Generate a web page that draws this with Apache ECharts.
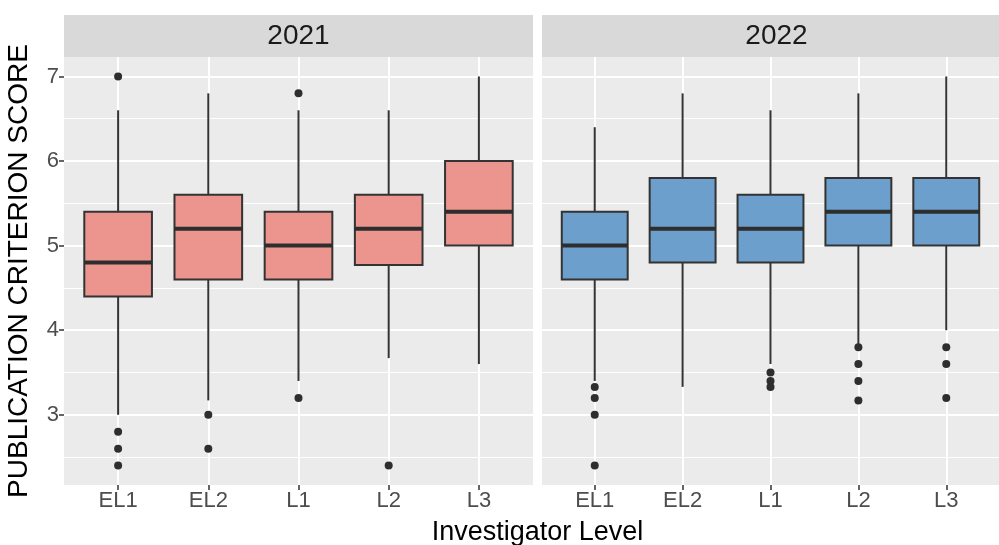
<!DOCTYPE html>
<html>
<head>
<meta charset="utf-8">
<script src="https://cdn.jsdelivr.net/npm/echarts@6/dist/echarts.min.js"></script>
<style>
  html, body { margin: 0; padding: 0; background: #ffffff; }
  #chart { width: 999px; height: 545px; }
</style>
</head>
<body>
<div id="chart"></div>
<script>
// Investigator levels on the x axis, one facet per year
const levels = ['EL1', 'EL2', 'L1', 'L2', 'L3'];
const years = ['2021', '2022'];

// Box summaries per level: [lower whisker, Q1, median, Q3, upper whisker]
const stats2021 = [
  [3.0, 4.4, 4.8, 5.4, 6.6],
  [3.17, 4.6, 5.2, 5.6, 6.8],
  [3.4, 4.6, 5.0, 5.4, 6.6],
  [3.67, 4.77, 5.2, 5.6, 6.6],
  [3.6, 5.0, 5.4, 6.0, 7.0]
];
const stats2022 = [
  [3.4, 4.6, 5.0, 5.4, 6.4],
  [3.33, 4.8, 5.2, 5.8, 6.8],
  [3.6, 4.8, 5.2, 5.6, 6.6],
  [3.83, 5.0, 5.4, 5.8, 6.8],
  [4.0, 5.0, 5.4, 5.8, 7.0]
];

// Outlying scores: [level index, score]
const outliers2021 = [
  [0, 7.0], [0, 2.8], [0, 2.6], [0, 2.4],
  [1, 3.0], [1, 2.6],
  [2, 6.8], [2, 3.2],
  [3, 2.4]
];
const outliers2022 = [
  [0, 3.33], [0, 3.2], [0, 3.0], [0, 2.4],
  [2, 3.5], [2, 3.4], [2, 3.33],
  [3, 3.8], [3, 3.6], [3, 3.4], [3, 3.17],
  [4, 3.8], [4, 3.6], [4, 3.2]
];

// Axis ticks
const yMajorTicks = [3, 4, 5, 6, 7];
const yMinorTicks = [2.5, 3.5, 4.5, 5.5, 6.5];

const statsByYear = [stats2021, stats2022];
const outliersByYear = [outliers2021, outliers2022];
const fills = ['#EC958E', '#6C9FCB'];

// Panel geometry
const panelTop = 57;
const panelHeight = 428;
const panelWidth = 469;
const panelLefts = [64, 542];
const stripTop = 15;
const stripHeight = 42;
const font = 'Liberation Sans, Arial, sans-serif';

// y range: data extent padded by 5% on each side
const allScores = [];
statsByYear.forEach(s => s.forEach(r => allScores.push(...r)));
outliersByYear.forEach(o => o.forEach(p => allScores.push(p[1])));
const lo = Math.min(...allScores), hi = Math.max(...allScores);
const pad = (hi - lo) * 0.05;
const yMin = lo - pad, yMax = hi + pad;
// x range: discrete positions 1..n padded by 0.6
const xPositions = levels.map((_, i) => i + 1);
const xMin = 0.4, xMax = levels.length + 0.6;

const grids = panelLefts.map(left => ({
  left: left, top: panelTop, width: panelWidth, height: panelHeight,
  show: true, backgroundColor: '#EBEBEB', borderWidth: 0
}));

const xAxes = years.map((_, g) => ({
  type: 'value', gridIndex: g, min: xMin, max: xMax,
  axisLine: { show: false },
  axisTick: { show: true, customValues: xPositions, length: 5, lineStyle: { color: '#333333', width: 1.5 } },
  axisLabel: {
    show: true, customValues: xPositions, formatter: v => levels[Math.round(v) - 1],
    color: '#4D4D4D', fontSize: 22, fontFamily: font, margin: 5
  },
  splitLine: { show: true, lineStyle: { color: '#FFFFFF', width: 2 } }
}));

const yAxes = [];
years.forEach((_, g) => {
  yAxes.push({
    type: 'value', gridIndex: g, min: yMin, max: yMax, position: 'left',
    axisLine: { show: false },
    axisTick: { show: g === 0, customValues: yMajorTicks, length: 5, lineStyle: { color: '#333333', width: 1.5 } },
    axisLabel: {
      show: g === 0, customValues: yMajorTicks, formatter: v => String(v),
      color: '#4D4D4D', fontSize: 22, fontFamily: font, margin: 5
    },
    splitLine: { show: true, lineStyle: { color: '#FFFFFF', width: 2 } },
    name: g === 0 ? 'PUBLICATION CRITERION SCORE' : '',
    nameLocation: 'middle', nameRotate: 90, nameGap: 31,
    nameTextStyle: { color: '#000000', fontSize: 28, fontFamily: font }
  });
  yAxes.push({
    type: 'value', gridIndex: g, min: yMin, max: yMax, position: 'left',
    axisLine: { show: false },
    axisTick: { show: false, customValues: yMinorTicks },
    axisLabel: { show: false, customValues: yMinorTicks },
    splitLine: { show: true, lineStyle: { color: '#FFFFFF', width: 1 } }
  });
});

function renderBox(params, api) {
  const x = api.value(0);
  const pLo = api.coord([x, api.value(1)]);
  const pQ1 = api.coord([x, api.value(2)]);
  const pMed = api.coord([x, api.value(3)]);
  const pQ3 = api.coord([x, api.value(4)]);
  const pHi = api.coord([x, api.value(5)]);
  const w = api.size([0.75, 0])[0];
  const stroke = '#333333';
  return {
    type: 'group',
    children: [
      { type: 'line', shape: { x1: pQ3[0], y1: pQ3[1], x2: pHi[0], y2: pHi[1] }, style: { stroke, lineWidth: 2 } },
      { type: 'line', shape: { x1: pLo[0], y1: pLo[1], x2: pQ1[0], y2: pQ1[1] }, style: { stroke, lineWidth: 2 } },
      { type: 'rect', shape: { x: pQ3[0] - w / 2, y: pQ3[1], width: w, height: pQ1[1] - pQ3[1] },
        style: { fill: api.visual('color'), stroke, lineWidth: 2 } },
      { type: 'line', shape: { x1: pMed[0] - w / 2, y1: pMed[1], x2: pMed[0] + w / 2, y2: pMed[1] },
        style: { stroke: '#2E2E2E', lineWidth: 4 } }
    ]
  };
}

const series = [];
years.forEach((year, g) => {
  series.push({
    type: 'custom', name: year + ' box',
    xAxisIndex: g, yAxisIndex: g * 2,
    itemStyle: { color: fills[g] },
    renderItem: renderBox,
    encode: { x: 0, y: [1, 2, 3, 4, 5] },
    data: statsByYear[g].map((s, i) => [xPositions[i], ...s]),
    z: 3
  });
  series.push({
    type: 'scatter', name: year + ' outliers',
    xAxisIndex: g, yAxisIndex: g * 2,
    symbol: 'circle', symbolSize: 8,
    itemStyle: { color: '#2E2E2E', opacity: 1 },
    data: outliersByYear[g].map(p => [xPositions[p[0]], p[1]]),
    z: 4
  });
});

const graphics = [];
years.forEach((year, g) => {
  graphics.push({
    type: 'rect', left: panelLefts[g], top: stripTop,
    shape: { width: panelWidth, height: stripHeight },
    style: { fill: '#D9D9D9' }, silent: true
  });
  graphics.push({
    type: 'text', x: panelLefts[g] + panelWidth / 2, y: stripTop + stripHeight / 2,
    style: { text: year, fill: '#1A1A1A', font: '28px ' + font, align: 'center', verticalAlign: 'middle' },
    silent: true
  });
});
graphics.push({
  type: 'text',
  x: (panelLefts[0] + panelLefts[1] + panelWidth) / 2, y: 533,
  style: { text: 'Investigator Level', fill: '#000000', font: '27px ' + font, align: 'center', verticalAlign: 'middle' },
  silent: true
});

const chart = echarts.init(document.getElementById('chart'), null, { renderer: 'canvas' });
chart.setOption({
  animation: false,
  backgroundColor: '#FFFFFF',
  grid: grids,
  xAxis: xAxes,
  yAxis: yAxes,
  series: series,
  graphic: graphics
});
</script>
</body>
</html>
